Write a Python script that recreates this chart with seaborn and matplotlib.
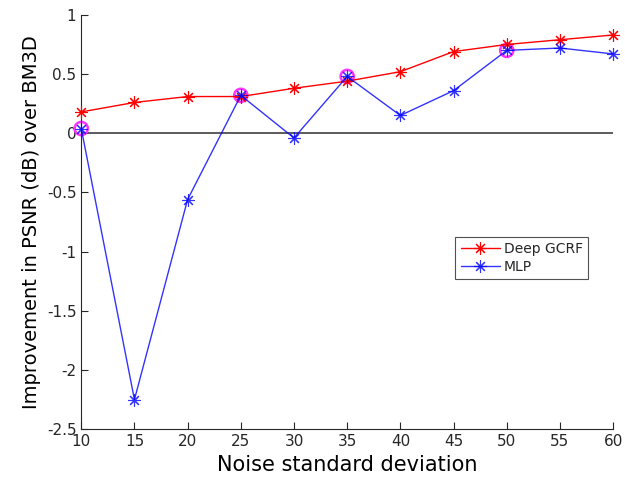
import matplotlib.pyplot as plt
import pandas as pd
import seaborn as sns

# values
noise = [10, 15, 20, 25, 30, 35, 40, 45, 50, 55, 60]
deep_gcrf = [0.18, 0.26, 0.31, 0.31, 0.38, 0.44, 0.52, 0.69, 0.75, 0.79, 0.83]
mlp = [0.04, -2.25, -0.56, 0.32, -0.04, 0.48, 0.15, 0.36, 0.70, 0.72, 0.67]
# points circled in magenta
circled_x = [10, 25, 35, 50]
circled_y = [0.04, 0.32, 0.48, 0.70]

df = pd.DataFrame({'noise': noise * 2,
                   'value': deep_gcrf + mlp,
                   'method': ['Deep GCRF'] * len(noise) + ['MLP'] * len(noise)})

sns.set_style('ticks')
plt.rcParams['font.family'] = ['DejaVu Sans']

fig = plt.figure(figsize=(6.25, 4.8), dpi=100)
ax = fig.add_axes([0.13, 0.106, 0.851, 0.863])

ax.axhline(0, color='#404040', lw=1.2, zorder=1)
sns.lineplot(data=df, x='noise', y='value', hue='method',
             palette={'Deep GCRF': '#ff0000', 'MLP': '#0000ff'},
             lw=1.0, ax=ax, zorder=3)
sns.scatterplot(x=circled_x, y=circled_y, s=90, facecolor='none',
                edgecolor='#ff33ff', linewidth=1.8, ax=ax, zorder=2, legend=False)
for c in ax.collections:
    c.set_clip_on(False)

star = (8, 2, 0)
# asterisk markers in the line colour
for l in ax.lines:
    if l.get_color() in ('#ff0000', '#0000ff'):
        l.set_marker(star)
        l.set_markersize(9)
        l.set_markeredgewidth(0.8)
        l.set_markeredgecolor(l.get_color())
        l.set_clip_on(False)
        if l.get_color() == '#0000ff':
            l.set_alpha(0.8)

ax.set_xlim(10, 60)
ax.set_ylim(-2.5, 1)
ax.set_xticks(range(10, 61, 5))
ax.set_yticks([-2.5, -2, -1.5, -1, -0.5, 0, 0.5, 1])
ax.set_yticklabels(['-2.5', '-2', '-1.5', '-1', '-0.5', '0', '0.5', '1'])
ax.tick_params(direction='in', length=5, labelsize=11, colors='#262626', width=0.8)
for s in ['top', 'right']:
    ax.spines[s].set_visible(False)
for s in ['left', 'bottom']:
    ax.spines[s].set_color('#262626')
    ax.spines[s].set_linewidth(0.8)

ax.set_xlabel('Noise standard deviation', fontsize=15, color='black')
ax.set_ylabel('Improvement in PSNR (dB) over BM3D', fontsize=14, color='black')

leg = ax.legend(title=None, loc='lower left', bbox_to_anchor=(0.69, 0.345),
                fontsize=10, frameon=True, fancybox=False, handlelength=2.8,
                borderpad=0.4, labelspacing=0.25, handletextpad=0.3)
for h in leg.legend_handles:
    h.set_marker(star)
    h.set_markersize(9)
    h.set_markeredgewidth(0.8)
    h.set_markeredgecolor(h.get_color())
leg.get_frame().set_edgecolor('#262626')
leg.get_frame().set_linewidth(0.8)

fig.savefig('out.png', dpi=100)
